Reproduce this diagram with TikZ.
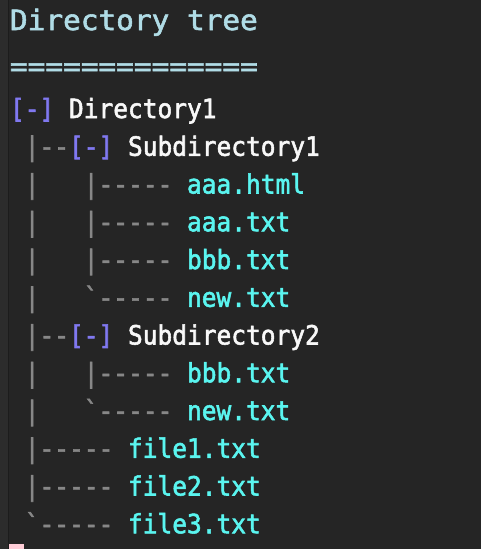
\documentclass[tikz,border=0pt]{standalone}
\usepackage{fontspec}
\setmonofont[FakeStretch=0.925, FakeBold=2]{DejaVu Sans Mono}
\newfontfamily\titlefont[FakeStretch=1.05, FakeBold=2]{DejaVu Sans Mono}
\definecolor{bgc}{RGB}{37,37,37}
\definecolor{stripc}{RGB}{44,44,44}
\definecolor{stripline}{RGB}{28,28,28}
\definecolor{titlec}{RGB}{176,220,230}
\definecolor{purc}{RGB}{128,120,240}
\definecolor{whc}{RGB}{248,248,248}
\definecolor{grc}{RGB}{135,135,135}
\definecolor{cyc}{RGB}{90,245,240}
\definecolor{pinkc}{RGB}{255,205,215}
\tikzset{
  txt/.style={anchor=base west, inner sep=0pt, outer sep=0pt, font=\ttfamily\fontsize{26.5}{30}\selectfont},
  ttl/.style={anchor=base west, inner sep=0pt, outer sep=0pt, font=\titlefont\fontsize{28}{32}\selectfont, text=titlec},
  tree/.style={txt, text=grc},
  togglemark/.style={txt, text=purc},
  dirn/.style={txt, text=whc},
  filen/.style={txt, text=cyc}
}
\newcommand{\cx}[1]{10+#1*14.75}
\newcommand{\ry}[1]{118+#1*37.75}
\begin{document}
\begin{tikzpicture}[x=1pt,y=-1pt]
\fill[bgc] (0,0) rectangle (481,549);
\useasboundingbox (0,0) rectangle (481,549);
\fill[stripc] (0,0) rectangle (7.5,549);
\fill[stripline] (7.5,0) rectangle (8.5,549);
\fill[pinkc] (9,544) rectangle (23.5,549);
% title
\node[ttl] (title) at (10,30) {Directory tree};
\node[ttl] (rule) at (10,76) {==============};
% row 0
\node[togglemark] (m0) at ({\cx{0}},{\ry{0}}) {[-]};
\node[dirn] (d0) at ({\cx{4}},{\ry{0}}) {Directory1};
% row 1
\node[tree] (t1) at ({\cx{1}},{\ry{1}}) {|--};
\node[togglemark] (m1) at ({\cx{4}},{\ry{1}}) {[-]};
\node[dirn] (d1) at ({\cx{8}},{\ry{1}}) {Subdirectory1};
% rows 2-5
\node[tree] (v2) at ({\cx{1}},{\ry{2}}) {|};
\node[tree] (t2) at ({\cx{5}},{\ry{2}}) {|-----};
\node[filen] (f2) at ({\cx{12}},{\ry{2}}) {aaa.html};
\node[tree] (v3) at ({\cx{1}},{\ry{3}}) {|};
\node[tree] (t3) at ({\cx{5}},{\ry{3}}) {|-----};
\node[filen] (f3) at ({\cx{12}},{\ry{3}}) {aaa.txt};
\node[tree] (v4) at ({\cx{1}},{\ry{4}}) {|};
\node[tree] (t4) at ({\cx{5}},{\ry{4}}) {|-----};
\node[filen] (f4) at ({\cx{12}},{\ry{4}}) {bbb.txt};
\node[tree] (v5) at ({\cx{1}},{\ry{5}}) {|};
\node[tree] (t5) at ({\cx{5}},{\ry{5}}) {`-----};
\node[filen] (f5) at ({\cx{12}},{\ry{5}}) {new.txt};
% row 6
\node[tree] (t6) at ({\cx{1}},{\ry{6}}) {|--};
\node[togglemark] (m6) at ({\cx{4}},{\ry{6}}) {[-]};
\node[dirn] (d6) at ({\cx{8}},{\ry{6}}) {Subdirectory2};
% rows 7-8
\node[tree] (v7) at ({\cx{1}},{\ry{7}}) {|};
\node[tree] (t7) at ({\cx{5}},{\ry{7}}) {|-----};
\node[filen] (f7) at ({\cx{12}},{\ry{7}}) {bbb.txt};
\node[tree] (v8) at ({\cx{1}},{\ry{8}}) {|};
\node[tree] (t8) at ({\cx{5}},{\ry{8}}) {`-----};
\node[filen] (f8) at ({\cx{12}},{\ry{8}}) {new.txt};
% rows 9-11
\node[tree] (t9) at ({\cx{1}},{\ry{9}}) {|-----};
\node[filen] (f9) at ({\cx{8}},{\ry{9}}) {file1.txt};
\node[tree] (t10) at ({\cx{1}},{\ry{10}}) {|-----};
\node[filen] (f10) at ({\cx{8}},{\ry{10}}) {file2.txt};
\node[tree] (t11) at ({\cx{1}},{\ry{11}}) {`-----};
\node[filen] (f11) at ({\cx{8}},{\ry{11}}) {file3.txt};
\end{tikzpicture}
\end{document}
